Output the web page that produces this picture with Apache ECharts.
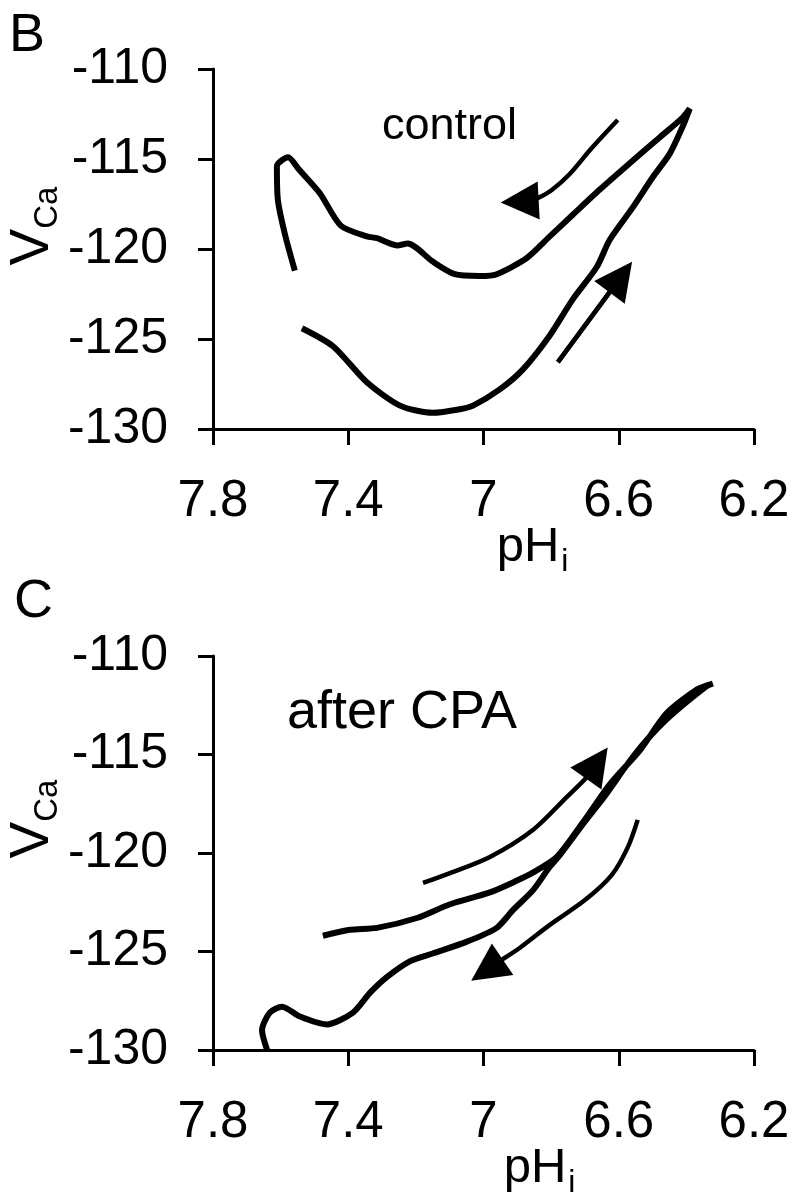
<!DOCTYPE html>
<html>
<head>
<meta charset="utf-8">
<script src="https://cdn.jsdelivr.net/npm/echarts@6/dist/echarts.min.js"></script>
<style>
html,body{margin:0;padding:0;background:#fff;}
#chart{width:799px;height:1199px;}
</style>
</head>
<body>
<div id="chart"></div>
<script>
// ---- tick values ----
const xTicks = [7.8, 7.4, 7, 6.6, 6.2];
const yTicks = [-110, -115, -120, -125, -130];

// ---- panel B: control (time order: lower branch left->right, upper branch right->left) ----
const controlPH = [7.537, 7.445, 7.345, 7.247, 7.150, 7.070, 7.031, 6.952, 6.884, 6.804, 6.736, 6.665, 6.627, 6.559, 6.499, 6.449, 6.411, 6.390,
                   6.411, 6.479, 6.559, 6.656, 6.736, 6.804, 6.872, 6.961, 7.011, 7.085, 7.150, 7.224, 7.256, 7.315, 7.345, 7.422, 7.484, 7.545, 7.578, 7.611, 7.608, 7.587, 7.558];
const controlV  = [-124.4, -125.4, -127.4, -128.7, -129.1, -128.9, -128.7, -127.8, -126.7, -124.8, -122.8, -121.0, -119.5, -117.7, -116.0, -114.7, -113.2, -112.2,
                   -112.7, -113.8, -115.1, -116.7, -118.1, -119.3, -120.5, -121.4, -121.5, -121.4, -120.7, -119.7, -119.8, -119.4, -119.3, -118.7, -116.9, -115.6, -114.9, -115.4, -117.3, -119.2, -121.2];

// ---- panel C: after CPA (upper branch left->right, lower branch right->left) ----
const cpaPH = [7.475, 7.395, 7.315, 7.197, 7.099, 6.981, 6.901, 6.854, 6.783, 6.700, 6.626, 6.538, 6.458, 6.369, 6.322,
               6.346, 6.464, 6.553, 6.641, 6.700, 6.774, 6.804, 6.854, 6.913, 6.961, 7.049, 7.150, 7.218, 7.286, 7.336, 7.386, 7.463, 7.543, 7.596, 7.632, 7.655, 7.640];
const cpaV  = [-124.2, -123.9, -123.8, -123.3, -122.6, -122.0, -121.4, -121.0, -120.2, -118.3, -116.5, -114.8, -112.9, -111.7, -111.4,
               -111.6, -113.3, -115.0, -117.1, -118.4, -120.1, -120.7, -121.9, -122.9, -123.8, -124.5, -125.1, -125.5, -126.3, -127.1, -128.1, -128.7, -128.3, -127.8, -128.1, -129.0, -130.0];

// ---- direction arrows (data coordinates) ----
const arrowB1PH = [6.603, 6.680, 6.745, 6.798, 6.839, 6.863, 6.893];
const arrowB1V  = [-112.83, -114.39, -115.83, -116.72, -117.17, -117.33, -117.36];
const arrowB2PH = [6.780, 6.594];
const arrowB2V  = [-126.28, -121.56];
const arrowC1PH = [7.179, 7.099, 6.981, 6.854, 6.754, 6.694, 6.665];
const arrowC1V  = [-121.52, -121.02, -120.20, -118.83, -117.16, -116.14, -115.43];
const arrowC2PH = [6.544, 6.573, 6.621, 6.700, 6.804, 6.893, 6.949, 6.990];
const arrowC2V  = [-118.32, -119.70, -121.12, -122.39, -123.65, -124.82, -125.46, -125.94];

function zip(a, b) { return a.map((v, i) => [v, b[i]]); }
const FONT = '"Liberation Sans", Arial, Helvetica, sans-serif';
const BLACK = '#000';

function xAxisCfg(gridIndex, padLeft) {
  return {
    gridIndex: gridIndex, type: 'value', min: 6.2, max: 7.8, inverse: true,
    axisLine: { show: true, lineStyle: { color: BLACK, width: 3 } },
    axisTick: { show: true, customValues: xTicks, length: 16, lineStyle: { color: BLACK, width: 3 } },
    axisLabel: { customValues: xTicks, fontSize: 51, color: BLACK, fontFamily: FONT, margin: 47,
                 formatter: v => String(+(+v).toFixed(1)) },
    splitLine: { show: false },
    name: '{m|pH}{s|i}', nameLocation: 'middle', nameGap: 92, nameMoveOverlap: false,
    nameTextStyle: {
      fontFamily: FONT, color: BLACK, fontSize: 48, padding: [0, 0, 0, padLeft],
      rich: {
        m: { fontSize: 49, fontFamily: FONT, color: BLACK, lineHeight: 52 },
        s: { fontSize: 32, fontFamily: FONT, color: BLACK, lineHeight: 52, padding: [30, 0, 0, 2] }
      }
    }
  };
}
function yAxisCfg(gridIndex, padLeft) {
  return {
    gridIndex: gridIndex, type: 'value', min: -130, max: -110,
    axisLine: { show: true, lineStyle: { color: BLACK, width: 3 } },
    axisTick: { show: true, customValues: yTicks, length: 15, lineStyle: { color: BLACK, width: 3 } },
    axisLabel: { customValues: yTicks, fontSize: 50, color: BLACK, fontFamily: FONT, margin: 45 },
    splitLine: { show: false },
    name: '{m|V}{s|Ca}', nameLocation: 'middle', nameGap: 150, nameRotate: 90, nameMoveOverlap: false,
    nameTextStyle: {
      fontFamily: FONT, color: BLACK, fontSize: 54, padding: [0, 0, 0, padLeft],
      rich: {
        m: { fontSize: 55, fontFamily: FONT, color: BLACK, lineHeight: 60 },
        s: { fontSize: 33, fontFamily: FONT, color: BLACK, lineHeight: 60, padding: [30, 0, 0, 0] }
      }
    }
  };
}

function traceSeries(name, xi, data) {
  return { name: name, type: 'line', xAxisIndex: xi, yAxisIndex: xi, data: data,
           showSymbol: false, symbol: 'none', smooth: 0.25,
           lineStyle: { color: BLACK, width: 6 }, silent: true, z: 3 };
}
function arrowBody(xi, ph, v) {
  return { type: 'line', xAxisIndex: xi, yAxisIndex: xi, data: zip(ph, v),
           showSymbol: false, symbol: 'none', smooth: 0.3,
           lineStyle: { color: BLACK, width: 4.5 }, silent: true, z: 2 };
}
function arrowHead(xi, ph, v) {
  const n = ph.length;
  return { type: 'lines', coordinateSystem: 'cartesian2d', xAxisIndex: xi, yAxisIndex: xi,
           polyline: false, clip: false, silent: true, z: 4,
           symbol: ['none', 'triangle'], symbolSize: [38, 38],
           lineStyle: { color: BLACK, width: 4.5, opacity: 1, curveness: 0 },
           itemStyle: { color: BLACK },
           data: [{ coords: [[ph[n - 2], v[n - 2]], [ph[n - 1], v[n - 1]]] }] };
}

const chart = echarts.init(document.getElementById('chart'), null, { renderer: 'canvas' });
chart.setOption({
  animation: false,
  backgroundColor: '#fff',
  grid: [
    { left: 213, top: 69, width: 541, height: 360, containLabel: false, outerBoundsMode: 'none' },
    { left: 213, top: 656, width: 541, height: 394, containLabel: false, outerBoundsMode: 'none' }
  ],
  xAxis: [xAxisCfg(0, 98), xAxisCfg(1, 112)],
  yAxis: [yAxisCfg(0, 46), yAxisCfg(1, 68)],
  series: [
    traceSeries('control', 0, zip(controlPH, controlV)),
    traceSeries('after CPA', 1, zip(cpaPH, cpaV)),
    arrowBody(0, arrowB1PH, arrowB1V), arrowHead(0, arrowB1PH, arrowB1V),
    arrowBody(0, arrowB2PH, arrowB2V), arrowHead(0, arrowB2PH, arrowB2V),
    arrowBody(1, arrowC1PH, arrowC1V), arrowHead(1, arrowC1PH, arrowC1V),
    arrowBody(1, arrowC2PH, arrowC2V), arrowHead(1, arrowC2PH, arrowC2V)
  ],
  graphic: [
    { type: 'text', x: 9, y: 36, style: { text: 'B', fontSize: 54, fontFamily: FONT, fill: BLACK, verticalAlign: 'middle' } },
    { type: 'text', x: 14, y: 602, style: { text: 'C', fontSize: 54, fontFamily: FONT, fill: BLACK, verticalAlign: 'middle' } },
    { type: 'text', x: 382, y: 127, style: { text: 'control', fontSize: 45, fontFamily: FONT, fill: BLACK, verticalAlign: 'middle' } },
    { type: 'text', x: 287, y: 713, style: { text: 'after CPA', fontSize: 54, fontFamily: FONT, fill: BLACK, verticalAlign: 'middle' } }
  ]
});
</script>
</body>
</html>
